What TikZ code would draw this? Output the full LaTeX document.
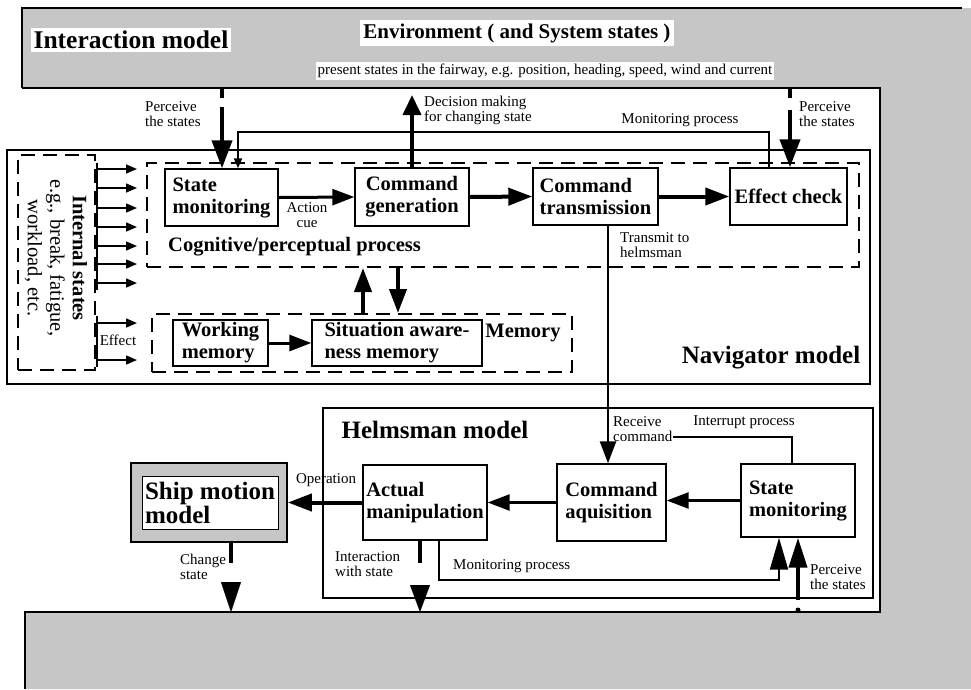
\documentclass[tikz,border=0pt]{standalone}
\usepackage{fontspec}
\setmainfont{Liberation Serif}
\usetikzlibrary{arrows.meta,calc}
\definecolor{envgrey}{RGB}{198,198,198}
\begin{document}
\begin{tikzpicture}[x=1pt,y=-1pt,
  box/.style={draw,line width=1.4pt,fill=white,align=left,inner sep=0pt,font=\fontsize{20.5}{22}\selectfont\bfseries},
  dbox/.style={draw,line width=2pt,dash pattern=on 14pt off 8pt,inner sep=0pt},
  frame/.style={draw,line width=1.6pt,inner sep=0pt},
  lbl/.style={font=\fontsize{15}{15}\selectfont,inner sep=0pt,align=left},
  title/.style={font=\fontsize{25}{27}\selectfont\bfseries,inner sep=0pt},
  mid/.style={font=\fontsize{20.5}{22}\selectfont\bfseries,inner sep=0pt},
  bigarr/.style={line width=4pt,-{Triangle[length=28pt,width=20pt]}},
  thickarr/.style={line width=4pt,-{Triangle[length=24pt,width=17pt]}},
  midarr/.style={line width=2.5pt,-{Triangle[length=22pt,width=16pt]}},
  thinarr/.style={line width=2pt,-{Triangle[length=10pt,width=8pt]}},
  smallarr/.style={line width=1.5pt,-{Triangle[length=11pt,width=9pt]}},
  plain/.style={line width=2pt},
  tick/.style={line width=3.5pt}]
\useasboundingbox (0,0) rectangle (971,689);
% environment
\fill[envgrey] (22,8) -- (971,8) -- (971,689) -- (25,689) -- (25,612) -- (880,612) -- (880,88) -- (22,88) -- cycle;
\draw[line width=2pt] (22,88) -- (22,8) -- (962,8);
\draw[line width=2pt] (22,88) -- (880,88) -- (880,612) -- (25,612) -- (25,689);
\node[fill=white,inner sep=3pt,font=\fontsize{25.5}{27}\selectfont\bfseries] (im) at (131,40) {Interaction model};
\node[fill=white,inner sep=3pt,font=\fontsize{21}{23}\selectfont\bfseries] (env) at (517,33) {Environment ( and System states )};
\node[fill=white,inner sep=2pt,font=\fontsize{15}{15}\selectfont] (pst) at (545,71) {present states in the fairway, e.g. position, heading, speed, wind and current};
% navigator
\node[frame,fill=white,minimum width=863pt,minimum height=234pt] (nav) at (438.5,267) {};
\node[title] (navt) at (771,358) {Navigator model};
\node[dbox,minimum width=77pt,minimum height=215pt] (ist) at (56.5,262.5) {};
\node[rotate=-90,align=center,inner sep=0pt,font=\fontsize{20.5}{22.5}\selectfont] (istt) at (56,258) {\textbf{Internal states}\\e.g., break, fatigue,\\workload, etc.};
\node[dbox,minimum width=712pt,minimum height=104pt] (cog) at (503,215) {};
\node[dbox,minimum width=420pt,minimum height=58pt] (mem) at (362,343) {};
\node[mid,anchor=west] (cogt) at (168,247) {Cognitive/perceptual process};
\node[mid] (memt) at (523,333) {Memory};
\node[box,minimum width=113pt,minimum height=57pt] (sm1) at (221.5,197.5) {State\\monitoring};
\node[box,align=center,minimum width=114pt,minimum height=58pt] (cg) at (412,197) {Command\\generation};
\node[box,minimum width=125pt,minimum height=57pt] (ct) at (595.5,196.5) {Command\\transmission};
\node[box,minimum width=117pt,minimum height=57pt] (ec) at (788.5,196.5) {Effect check};
\node[box,minimum width=95pt,minimum height=46pt] (wm) at (220.5,343) {Working\\memory};
\node[box,minimum width=170pt,minimum height=46pt] (sam) at (397,343) {Situation aware-\\ness memory};
% helmsman
\node[frame,minimum width=550pt,minimum height=190pt] (hm) at (598,503) {};
\node[title] (hmt) at (435,430) {Helmsman model};
\node[draw,line width=1.6pt,fill=envgrey,minimum width=156pt,minimum height=79pt,inner sep=0pt] (ship) at (209,502.5) {};
\node[draw,line width=0.8pt,fill=white,minimum width=136pt,minimum height=53pt,inner sep=0pt,align=left,font=\fontsize{25}{24}\selectfont\bfseries] (shipin) at (210,502.5) {Ship motion\\model};
\node[box,minimum width=124pt,minimum height=75pt] (am) at (425,502.5) {Actual\\manipulation};
\node[box,minimum width=109pt,minimum height=77pt] (ca) at (611.5,502.5) {Command\\aquisition};
\node[box,minimum width=114pt,minimum height=73pt] (sm2) at (798,500.5) {State\\monitoring};
% internal-state arrows
\foreach \i/\yy in {1/169,2/188,3/208,4/227,5/246,6/264,7/283,8/323,9/360}{
  \coordinate (is\i) at (97,\yy);
  \coordinate (it\i) at (137,\yy);
  \draw[smallarr] (is\i) -- (it\i);
}
\coordinate (va) at (97,163); \coordinate (vb) at (97,290);
\coordinate (vc) at (97,316); \coordinate (vd) at (97,367);
\draw[plain] (va) -- (vb);
\draw[plain] (vc) -- (vd);
\node[lbl] (eff) at (118,340) {Effect};
% top connectors
\coordinate (pl0) at (222,88); \coordinate (pl1) at (222,98); \coordinate (pl2) at (222,107);
\draw[tick] (pl0) -- (pl1);
\draw[bigarr] (pl2) -- (pl2 |- sm1.north);
\node[lbl,anchor=west] (plt) at (145,114.5) {Perceive\\the states};
\coordinate (pr0) at (790,88); \coordinate (pr1) at (790,98); \coordinate (pr2) at (790,110);
\draw[tick] (pr0) -- (pr1);
\draw[bigarr] (pr2) -- (pr2 |- ec.north);
\node[lbl,anchor=west] (prt) at (799,114.5) {Perceive\\the states};
\coordinate (dm) at (412,95);
\draw[line width=4pt,-{Triangle[length=20pt,width=18pt]}] (cg.north) -- (dm);
\node[lbl,anchor=west] (dmt) at (424,110) {Decision making\\for changing state};
\coordinate (mr) at (769,132); \coordinate (ml) at (238,132);
\draw[thinarr] (mr |- ec.north) -- (mr) -- (ml) -- (ml |- sm1.north);
\node[lbl] (mpt) at (680,120) {Monitoring process};
% cognitive row
\draw[midarr,line width=3pt] (sm1.east) -- (cg.west);
\node[lbl,align=center] (ac) at (307,215.5) {Action\\cue};
\draw[thickarr] (cg.east) -- (ct.west);
\draw[thickarr] (ct.east) -- (ec.west);
\draw[midarr,line width=3pt] (wm.east) -- (sam.west);
\coordinate (mu) at (363,0); \coordinate (md) at (398,0);
\draw[thickarr] (mem.north -| mu) -- (cog.south -| mu);
\draw[thickarr] (cog.south -| md) -- (mem.north -| md);
% transmit
\coordinate (tx) at (608,0);
\draw[midarr] (ct.south -| tx) -- (ca.north -| tx);
\node[lbl,anchor=west] (txt) at (620,245.5) {Transmit to\\helmsman};
\node[lbl,anchor=west] (rct) at (613,429.5) {Receive\\command};
% helmsman connectors
\coordinate (ir) at (792,437); \coordinate (il) at (673,437);
\draw[plain] (sm2.north -| ir) -- (ir) -- (il);
\node[lbl] (ipt) at (744,422) {Interrupt process};
\draw[midarr] (sm2.west) -- (sm2.west -| ca.east);
\draw[midarr] (ca.west) -- (ca.west -| am.east);
\draw[thickarr] (am.west) -- (am.west -| ship.east);
\node[lbl] (opt) at (326,480) {Operation};
\coordinate (cs0) at (231,563); \coordinate (cs1) at (231,582); \coordinate (cs2) at (231,612);
\draw[line width=4pt] (cs0 |- ship.south) -- (cs0);
\draw[line width=0.1pt,-{Triangle[length=30pt,width=20pt]}] (cs1) -- (cs2);
\node[lbl,anchor=west] (cst) at (180,566.5) {Change\\state};
\coordinate (is0) at (420,563); \coordinate (ia1) at (420,585); \coordinate (ia2) at (420,612);
\draw[line width=4pt] (is0 |- am.south) -- (is0);
\draw[line width=0.1pt,-{Triangle[length=27pt,width=20pt]}] (ia1) -- (ia2);
\node[lbl,anchor=west] (iwt) at (335,564) {Interaction\\with state};
\coordinate (mh1) at (439,580); \coordinate (mh2) at (779,580);
\draw[line width=2pt,-{Triangle[length=32pt,width=18pt]}] (mh1 |- am.south) -- (mh1) -- (mh2) -- (mh2 |- sm2.south);
\node[lbl,anchor=west] (mht) at (453,566) {Monitoring process};
\coordinate (ph) at (798,600);
\draw[line width=4pt,-{Triangle[length=30pt,width=18pt]}] (ph) -- (ph |- sm2.south);
\fill (798,610) circle (2.5pt);
\node[lbl,anchor=west] (pht) at (810,577) {Perceive\\the states};
\end{tikzpicture}
\end{document}
